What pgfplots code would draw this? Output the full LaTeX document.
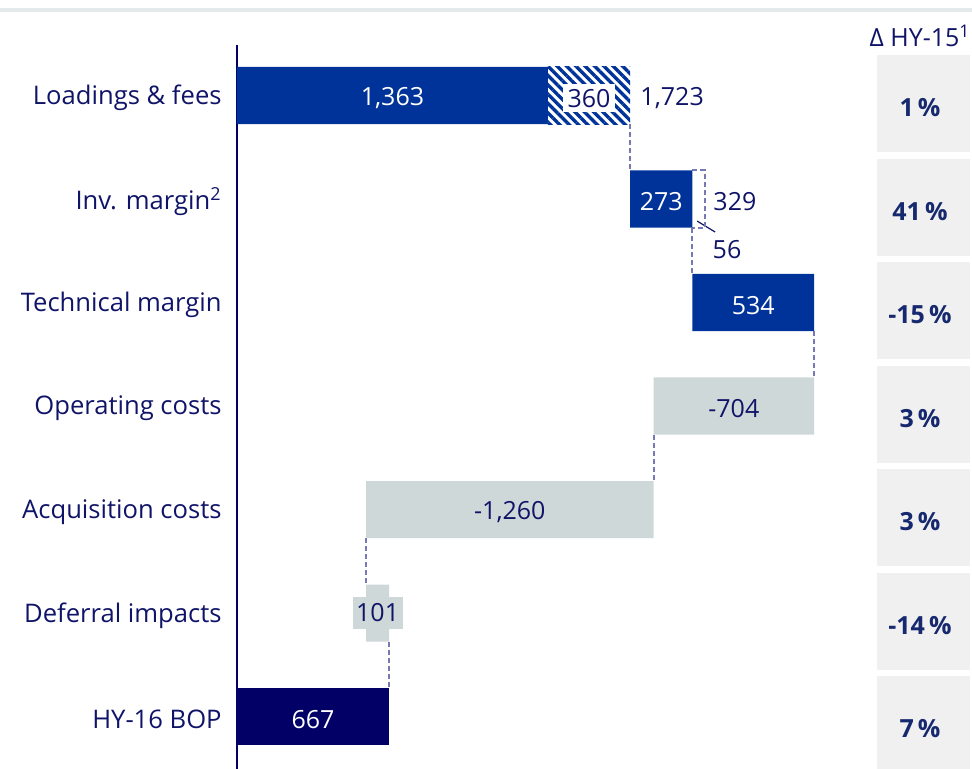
\documentclass[border=0pt]{standalone}
\usepackage{fontspec}
\setmainfont{Open Sans}
\usepackage{pgfplots}
\pgfplotsset{compat=1.18}
\usetikzlibrary{patterns.meta}
\definecolor{navytext}{RGB}{16,20,104}
\definecolor{barblue}{RGB}{0,51,153}
\definecolor{bardark}{RGB}{2,0,102}
\definecolor{bargray}{RGB}{207,216,216}
\definecolor{boxgray}{RGB}{240,240,240}
\definecolor{linegray}{RGB}{228,233,233}
\definecolor{dashcol}{RGB}{120,120,180}
\definecolor{pcttext}{RGB}{22,40,110}
\tikzset{
  pct/.style={text=pcttext, font=\fontsize{12.5}{14}\selectfont\bfseries},
  val/.style={font=\fontsize{12.5}{14}\selectfont, yshift=-1.3pt},
}
\pgfplotsset{
  conn/.style={stack plots=false, sharp plot, dashcol, line width=1pt, dash pattern=on 2.5pt off 1.5pt, mark=none},
}
\begin{document}
\begin{tikzpicture}
\useasboundingbox (-118.5pt,0pt) rectangle (367.5pt,384.5pt);
\fill[linegray] (-118.5pt,378.5pt) rectangle (367.5pt,380.5pt);
\begin{axis}[
  scale only axis,
  width=367.5pt, height=362pt,
  xmin=0, xmax=3222,
  ymin=-0.488, ymax=6.507,
  y dir=reverse,
  xbar stacked,
  bar width=0.551,
  clip=false,
  axis x line=none,
  axis y line=left,
  y axis line style={-, draw=bardark, line width=1pt},
  ytick={0,1,2,3,4,5,6},
  yticklabels={Loadings \& fees, Inv. margin\textsuperscript{2}, Technical margin, Operating costs, Acquisition costs, Deferral impacts, HY-16 BOP},
  major tick length=0pt,
  ytick style={draw=none},
  yticklabel style={font=\fontsize{12.8}{14}\selectfont, text=navytext, inner sep=0pt, xshift=-7.5pt, yshift=-1.3pt},
]
% right column boxes
\fill[boxgray] (axis cs:2806,-0.391) rectangle (axis cs:3213,0.546);
\fill[boxgray] (axis cs:2806,0.609) rectangle (axis cs:3213,1.546);
\fill[boxgray] (axis cs:2806,1.609) rectangle (axis cs:3213,2.546);
\fill[boxgray] (axis cs:2806,2.609) rectangle (axis cs:3213,3.546);
\fill[boxgray] (axis cs:2806,3.609) rectangle (axis cs:3213,4.546);
\fill[boxgray] (axis cs:2806,4.609) rectangle (axis cs:3213,5.546);
\fill[boxgray] (axis cs:2806,5.609) rectangle (axis cs:3213,6.546);
% invisible base
\addplot[draw=none, fill=none, forget plot] coordinates {(0,0) (1723,1) (1996,2) (1826,3) (566,4) (566,5) (0,6)};
% blue increases
\addplot[draw=none, fill=barblue] coordinates {(1363,0) (273,1) (534,2) (0,3) (0,4) (0,5) (0,6)};
% hatched part
\addplot[draw=none, pattern={Lines[angle=-45,distance=3.3pt,line width=1.7pt]}, pattern color=barblue] coordinates {(360,0) (0,1) (0,2) (0,3) (0,4) (0,5) (0,6)};
% gray decreases / small
\addplot[draw=none, fill=bargray] coordinates {(0,0) (0,1) (0,2) (704,3) (1260,4) (101,5) (0,6)};
% result
\addplot[draw=none, fill=bardark] coordinates {(0,0) (0,1) (0,2) (0,3) (0,4) (0,5) (667,6)};
% dashed 56 outline
\addplot[conn] coordinates {(1996,0.7245) (2052,0.7245) (2052,1.2755) (1996,1.2755)};
% connectors
\addplot[conn] coordinates {(1723,0.2755) (1723,0.7245)};
\addplot[conn] coordinates {(1996,1.2755) (1996,1.7245)};
\addplot[conn] coordinates {(2530,2.2755) (2530,2.7245)};
\addplot[conn] coordinates {(1826,3.2755) (1826,3.7245)};
\addplot[conn] coordinates {(566,4.2755) (566,4.7245)};
\addplot[conn] coordinates {(667,5.2755) (667,5.7245)};
\addplot[stack plots=false, sharp plot, navytext, line width=0.6pt, mark=none] coordinates {(2017,1.213) (2096,1.319)};
% label anchors
\coordinate (a1) at (axis cs:681.5,0);
\coordinate (a2) at (axis cs:1543,0);
\coordinate (a3) at (axis cs:1767,0);
\coordinate (a4) at (axis cs:1859.5,1);
\coordinate (a5) at (axis cs:2087,1);
\coordinate (a6) at (axis cs:2148,1.46);
\coordinate (a7) at (axis cs:2263,2);
\coordinate (a8) at (axis cs:2178,3);
\coordinate (a9) at (axis cs:1196,4);
\coordinate (a10) at (axis cs:616.5,5);
\coordinate (a11) at (axis cs:333.5,6);
\coordinate (p0) at (axis cs:2994,0.12);
\coordinate (p1) at (axis cs:2994,1.12);
\coordinate (p2) at (axis cs:2994,2.12);
\coordinate (p3) at (axis cs:2994,3.12);
\coordinate (p4) at (axis cs:2994,4.12);
\coordinate (p5) at (axis cs:2994,5.12);
\coordinate (p6) at (axis cs:2994,6.12);
\coordinate (hd) at (axis cs:2994,-0.575);
\end{axis}
\node[val, text=white] at (a1) {1,363};
\node[val, fill=white, text=navytext, minimum width=26pt, minimum height=14pt, inner sep=1pt] at (a2) {360};
\node[val, text=navytext, anchor=west, inner sep=0pt] at (a3) {1,723};
\node[val, text=white] at (a4) {273};
\node[val, text=navytext, anchor=west, inner sep=0pt] at (a5) {329};
\node[val, text=navytext] at (a6) {56};
\node[val, text=white] at (a7) {534};
\node[val, text=navytext] at (a8) {-704};
\node[val, text=navytext] at (a9) {-1,260};
\node[val, fill=bargray, text=navytext, minimum width=25pt, minimum height=16pt, inner sep=1pt, yshift=1.3pt] at (a10) {101};
\node[val, text=white] at (a11) {667};
\node[pct] at (p0) {1\,\%};
\node[pct] at (p1) {41\,\%};
\node[pct] at (p2) {-15\,\%};
\node[pct] at (p3) {3\,\%};
\node[pct] at (p4) {3\,\%};
\node[pct] at (p5) {-14\,\%};
\node[pct] at (p6) {7\,\%};
\node[font=\fontsize{12.5}{14}\selectfont, text=navytext] at (hd) {Δ HY-15\textsuperscript{1}};
\end{tikzpicture}
\end{document}
